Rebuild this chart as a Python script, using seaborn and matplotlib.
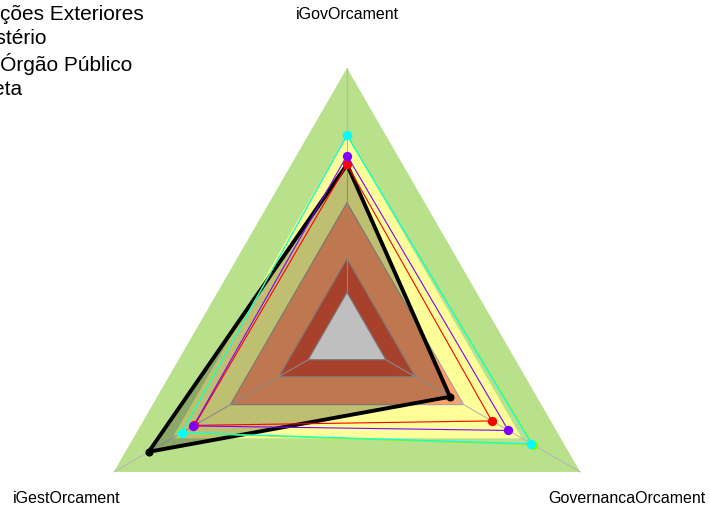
"""Radar chart of budget governance indices (iGG style bands)."""

import numpy as np
import pandas as pd
import matplotlib
matplotlib.use("Agg")
import matplotlib.pyplot as plt
from matplotlib.lines import Line2D
import seaborn as sns

# --- data ---
axis_labels = ["iGovOrcament", "iGestOrcament", "GovernancaOrcament"]

# band limits on the index scale (0..1) and their colours, outer to inner
band_limits = [1.0, 0.70, 0.40, 0.15, 0.0]
band_colors = ["#B9E08B", "#FFFF99", "#FFA06A", "#E0583B", "#FFFFFF"]

black_vals = [0.57, 0.82, 0.33]
red_vals = [0.57, 0.585, 0.545]
purple_vals = [0.61, 0.59, 0.63]
lime_vals = [0.70, 0.655, 0.757]
cyan_vals = [0.70, 0.65, 0.749]

legend_labels = ["Média Geral", "Relações Exteriores", "Ministério",
                 "Seu Órgão Público", "A Meta"]

sns.set_theme(style="white")
plt.rcParams["font.family"] = ["Liberation Sans", "DejaVu Sans"]
plt.rcParams["text.color"] = "black"

theta = np.deg2rad([90, 210, 330])


def to_xy(vals, closed=True):
    # fmsb-like scale: centre gap of 1/(seg+1) with seg=5
    r = 1 / 6 + np.asarray(vals, dtype=float) * 5 / 6
    x, y = r * np.cos(theta), r * np.sin(theta)
    if closed:
        x, y = np.append(x, x[0]), np.append(y, y[0])
    return x, y


fig = plt.figure(figsize=(7.1, 5.11), dpi=100)
ax = fig.add_axes([0, 0, 1, 1])

# background bands
for i, (lim, col) in enumerate(zip(band_limits, band_colors)):
    bx, by = to_xy([lim] * 3)
    ax.fill(bx, by, color=col, lw=0, zorder=1)
    if i > 1:
        ax.plot(bx, by, color="#A0A0A0", lw=0.8, zorder=2)

# spokes
for t in theta:
    ax.plot([np.cos(t) / 6, np.cos(t)], [np.sin(t) / 6, np.sin(t)],
            color="#B8B8B8", lw=0.8, zorder=2)

series = [
    (black_vals, "black", 2.8, 34),
    (red_vals, "#FF0000", 0.8, 45),
    (purple_vals, "#8000FF", 0.8, 45),
    (lime_vals, "#80FF00", 0.8, 45),
    (cyan_vals, "#00FFFF", 0.8, 45),
]

for k, (vals, col, lw, ms) in enumerate(series):
    x, y = to_xy(vals)
    if k == 0:
        ax.fill(x, y, color="black", alpha=0.25, lw=0, zorder=3)
    df = pd.DataFrame({"x": x, "y": y})
    sns.lineplot(data=df, x="x", y="y", sort=False, estimator=None,
                 color=col, lw=lw, ax=ax, zorder=4 + k)
    sns.scatterplot(data=df.iloc[:-1], x="x", y="y", color=col, s=ms,
                    edgecolor=col, linewidth=0, ax=ax, zorder=4 + k, legend=False)

ax.set_xlim(-1.2886, 1.348)
ax.set_ylim(-0.645, 1.2525)
ax.axis("off")

# axis labels
for lab, t in zip(axis_labels, theta):
    ax.text(1.2 * np.cos(t), 1.2 * np.sin(t), lab, ha="center", va="center",
            fontsize=11.5, color="black")

# legend (partly outside the canvas, as in the original)
legend_colors = ["#80FF00", "black", "#FF0000", "#8000FF", "#00FFFF"]
handles = [Line2D([], [], marker="o", ls="none", color=c, markersize=8)
           for c in legend_colors]
fig.legend(handles, legend_labels, loc="upper left",
           bbox_to_anchor=(-74 / 710, 1 + 19.5 / 511),
           frameon=False, borderpad=0, borderaxespad=0, handlelength=1,
           handletextpad=0.5, labelspacing=0.25, labelcolor="black",
           prop={"size": 15})

fig.savefig("out.png", dpi=100)
